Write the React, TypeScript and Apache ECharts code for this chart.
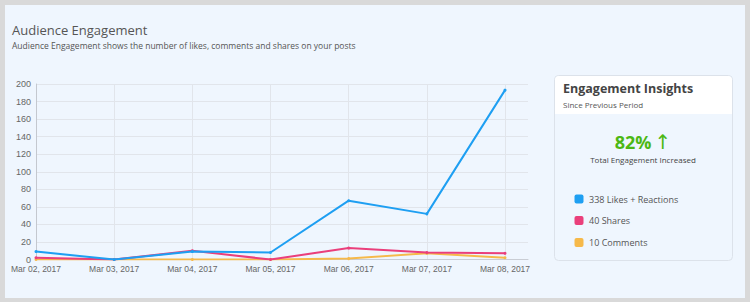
import React, { useEffect, useRef } from "react";
import * as echarts from "echarts";

const dates = ["Mar 02, 2017", "Mar 03, 2017", "Mar 04, 2017", "Mar 05, 2017", "Mar 06, 2017", "Mar 07, 2017", "Mar 08, 2017"];
const likes = [9, 0, 9, 8, 67, 52, 193];
const shares = [2, 0, 10, 0, 13, 8, 7];
const comments = [0, 0, 0, 0, 1, 7, 2];
const seriesNames = ["Likes + Reactions", "Shares", "Comments"];
const seriesColors = ["#1e9ff2", "#ea3f7b", "#f6b94a"];
const totals = [338, 40, 10];
const yTicks = { min: 0, max: 200, interval: 20 };

const FONT = "'Open Sans', sans-serif";

export default function App() {
  const ref = useRef<HTMLDivElement>(null);
  useEffect(() => {
    document.body.style.margin = "0";
    const chart = echarts.init(ref.current!, null, { renderer: "svg" });
    const mk = (arr: number[]) => arr.map((v, i) => [i, v]);
    const data = [likes, shares, comments];
    const legendY = [199, 220.5, 242.5];
    const legendGraphics: any[] = [];
    seriesNames.forEach((n, i) => {
      legendGraphics.push({
        type: "rect",
        shape: { x: 574.5, y: legendY[i] - 4.5, width: 9, height: 9, r: 2 },
        style: { fill: seriesColors[i] },
      });
      legendGraphics.push({
        type: "text",
        x: 589,
        y: legendY[i],
        style: { text: `${totals[i]} ${n}`, fill: "#555", font: `9px ${FONT}`, textVerticalAlign: "middle" },
      });
    });
    chart.setOption({
      animation: false,
      backgroundColor: "#d9d9d9",
      grid: { left: 36, top: 84, right: 222, bottom: 42.5 },
      xAxis: {
        type: "value",
        min: 0,
        max: 6.294,
        interval: 1,
        axisLine: { show: true, lineStyle: { color: "#c9cdd4" } },
        axisTick: { show: false },
        splitLine: { show: true, showMaxLine: false, lineStyle: { color: "#e1e5eb" } },
        axisLabel: {
          color: "#666",
          fontSize: 8.5,
          fontFamily: "'Liberation Sans', Arial, sans-serif",
          margin: 5,
          showMaxLabel: false,
          formatter: (v: number) => (Number.isInteger(v) && dates[v] ? dates[v] : ""),
        },
      },
      yAxis: {
        type: "value",
        min: yTicks.min,
        max: yTicks.max,
        interval: yTicks.interval,
        axisLine: { show: true, lineStyle: { color: "#c4c8cf" } },
        axisTick: { show: false },
        splitLine: { show: true, lineStyle: { color: "#e1e5eb" } },
        axisLabel: { color: "#666", fontSize: 9, fontFamily: "'Liberation Sans', Arial, sans-serif", margin: 5 },
      },
      series: data.map((d, i) => ({
        name: seriesNames[i],
        type: "line",
        data: mk(d),
        z: 3 - i,
        symbol: "circle",
        symbolSize: 3,
        showSymbol: true,
        lineStyle: { width: 2, color: seriesColors[i] },
        itemStyle: { color: seriesColors[i] },
      })),
      graphic: [
        {
          type: "rect",
          z: -10,
          shape: { x: 5, y: 5, width: 740, height: 293 },
          style: { fill: "#eff6fe" },
        },
        {
          type: "text",
          x: 12,
          y: 30,
          style: { text: "Audience Engagement", fill: "#555", font: `13px ${FONT}`, textVerticalAlign: "middle" },
        },
        {
          type: "text",
          x: 12,
          y: 45,
          style: {
            text: "Audience Engagement shows the number of likes, comments and shares on your posts",
            fill: "#555",
            font: `8.5px ${FONT}`,
            textVerticalAlign: "middle",
          },
        },
        {
          type: "rect",
          shape: { x: 554.5, y: 75.5, width: 178, height: 185, r: 4 },
          style: { fill: "#eff6fe", stroke: "#dce2ea", lineWidth: 1 },
        },
        {
          type: "rect",
          shape: { x: 555, y: 76, width: 177, height: 38, r: [4, 4, 0, 0] },
          style: { fill: "#ffffff" },
        },
        {
          type: "text",
          x: 563,
          y: 88,
          style: { text: "Engagement Insights", fill: "#444", font: `bold 12.5px ${FONT}`, textVerticalAlign: "middle" },
        },
        {
          type: "text",
          x: 563,
          y: 104,
          style: { text: "Since Previous Period", fill: "#555", font: `8px ${FONT}`, textVerticalAlign: "middle" },
        },
        {
          type: "text",
          x: 643,
          y: 142,
          style: {
            text: "{a|82%}{b|↑}",
            textAlign: "center",
            textVerticalAlign: "middle",
            rich: {
              a: { fill: "#4cb814", font: `bold 18px ${FONT}` },
              b: { fill: "#4cb814", font: `20px 'DejaVu Sans', sans-serif`, padding: [0, 0, 0, 3] },
            },
          },
        },
        {
          type: "text",
          x: 643,
          y: 159,
          style: {
            text: "Total Engagement Increased",
            fill: "#444",
            font: `8px ${FONT}`,
            textAlign: "center",
            textVerticalAlign: "middle",
          },
        },
        ...legendGraphics,
      ],
    });
    return () => chart.dispose();
  }, []);
  return <div ref={ref} style={{ position: "fixed", left: 0, top: 0, width: 750, height: 302 }} />;
}
